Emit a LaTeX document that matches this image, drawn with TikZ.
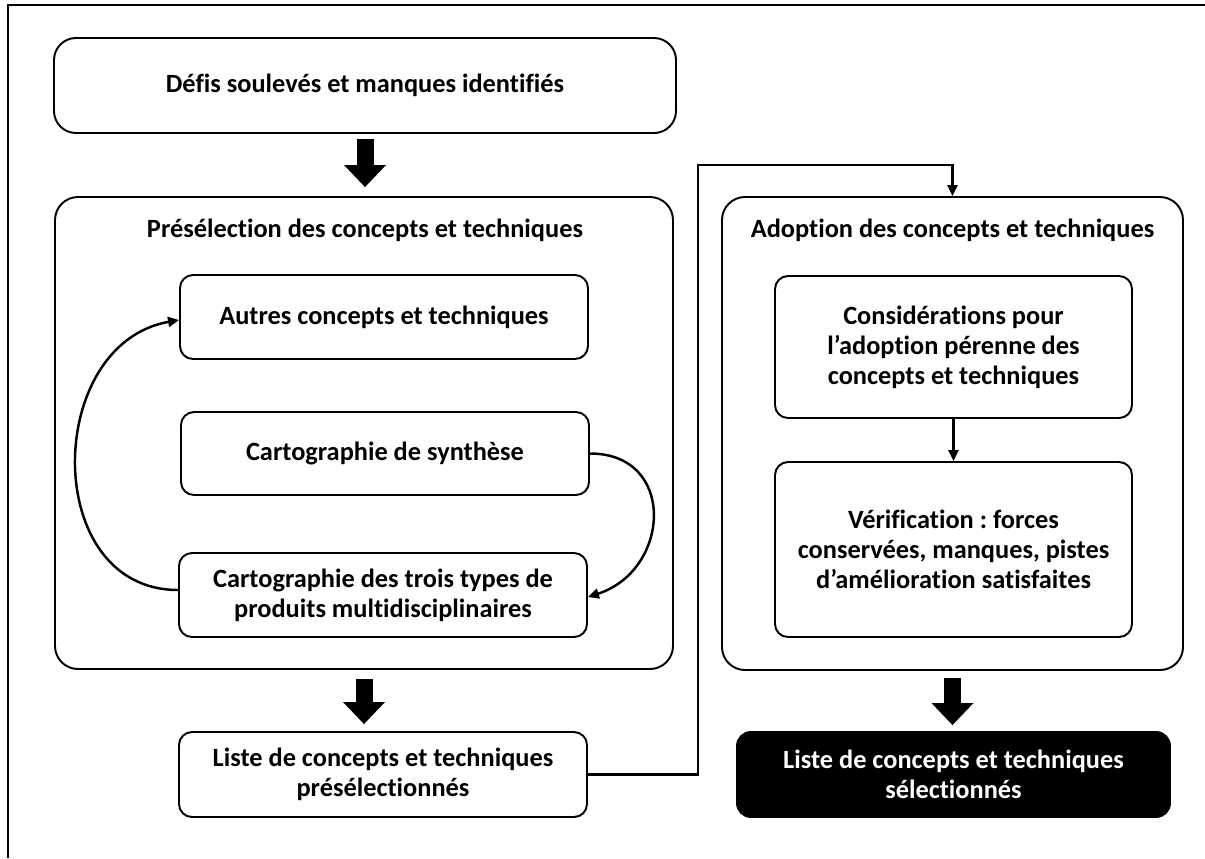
\documentclass[tikz,border=0pt]{standalone}
\usepackage{fontspec}
\setmainfont{Carlito}[Ligatures=NoCommon]
\usepackage{tikz}
\usetikzlibrary{arrows.meta,positioning,calc}
\frenchspacing

\begin{document}
\begin{tikzpicture}[x=1cm,y=1cm, font=\fontsize{15}{17}\selectfont\bfseries,
  boite/.style={draw, line width=1.1pt, rounded corners=0.26cm, align=center, inner sep=0pt, minimum width=8.16cm, minimum height=1.68cm},
  cadre/.style={draw, line width=1.1pt, rounded corners=0.46cm, inner sep=0pt},
  fleche/.style={line width=1.4pt, -{Triangle[length=0.22cm, width=0.2cm]}},
  grosse/.style={line width=0.34cm, -{Triangle[length=0.44cm, width=0.84cm, line width=0pt]}}]
  \useasboundingbox (0,0) rectangle (24.1,-17.16);
  \draw[line width=1.1pt] (24.1,-0.10) -- (0.16,-0.10) -- (0.16,-17.16);
  % colonne de gauche
  \node[boite, rounded corners=0.44cm, minimum width=12.44cm, minimum height=1.90cm] (defis) at (7.30,-1.71) {Défis soulevés et manques identifiés};
  \node[cadre, minimum width=12.36cm, minimum height=9.44cm] (presel) at (7.28,-8.66) {};
  \node (preseltitre) at (7.30,-4.60) {Présélection des concepts et techniques};
  \node[boite] (autres) at (7.68,-6.34) {Autres concepts et techniques};
  \node[boite, minimum height=1.66cm] (synthese) at (7.70,-9.07) {Cartographie de synthèse};
  \node[boite] (trois) at (7.66,-11.90) {Cartographie des trois types de\\produits multidisciplinaires};
  \node[boite, minimum height=1.70cm] (liste1) at (7.66,-15.49) {Liste de concepts et techniques\\présélectionnés};
  % colonne de droite
  \node[cadre, minimum width=9.22cm, minimum height=9.46cm] (adopt) at (19.05,-8.67) {};
  \node (adopttitre) at (19.05,-4.60) {Adoption des concepts et techniques};
  \node[boite, minimum width=7.14cm, minimum height=2.84cm] (consid) at (19.07,-6.94) {Considérations pour\\l’adoption pérenne des\\concepts et techniques};
  \node[boite, minimum width=7.14cm, minimum height=3.50cm] (verif) at (19.07,-10.99) {Vérification : forces\\conservées, manques, pistes\\d’amélioration satisfaites};
  \node[boite, fill=black, text=white, rounded corners=0.28cm, minimum width=8.66cm, minimum height=1.70cm] (liste2) at (19.07,-15.49) {Liste de concepts et techniques\\sélectionnés};
  % fleches
  \draw[grosse] ($(defis.south)+(0,-0.10)$) -- ($(defis.south |- presel.north)+(0,0.18)$);
  \draw[grosse] ($(presel.south)+(0,-0.18)$) -- ($(presel.south |- liste1.north)+(0,0.14)$);
  \draw[grosse] ($(adopt.south)+(0,-0.14)$) -- ($(adopt.south |- liste2.north)+(0,0.12)$);
  \draw[fleche] ([yshift=0.10cm]trois.west) to[out=180, in=190, looseness=1.3] ([yshift=-0.06cm]autres.west);
  \draw[fleche] (synthese.east) to[out=0, in=18, looseness=1.55] ([yshift=-0.04cm]trois.east);
  \draw[fleche] (consid) -- (verif);
  \coordinate (coude) at (13.96,-3.30);
  \draw[fleche] (liste1.east) -| (coude) -- (coude -| adopt.north) -- (adopt.north);
\end{tikzpicture}
\end{document}
